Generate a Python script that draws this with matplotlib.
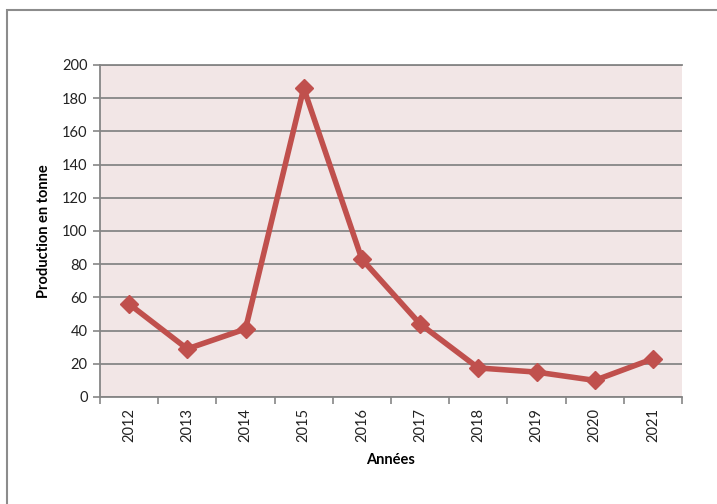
import matplotlib.pyplot as plt
from matplotlib.patches import Rectangle

annees = ["2012", "2013", "2014", "2015", "2016", "2017", "2018", "2019", "2020", "2021"]
production = [56, 29, 41, 186, 83, 44, 17.5, 15, 10, 23]
yticks = [0, 20, 40, 60, 80, 100, 120, 140, 160, 180, 200]

plt.rcParams['font.family'] = ['Lato', 'DejaVu Sans']

fig = plt.figure(figsize=(7.17, 5.04), dpi=100)
W, H = 717, 504
ax = fig.add_axes([100 / W, 1 - 397 / H, (682 - 100) / W, (397 - 65) / H])

# outer frame of the chart
fig.patches.append(Rectangle((7 / W, -0.1), 1.2, 1 - 10 / H + 0.1, transform=fig.transFigure,
                             fill=False, edgecolor='#8c8c8c', linewidth=1.5))

ax.set_facecolor('#f2e6e6')
x = list(range(len(annees)))
ax.plot(x, production, color='#c0504d', linewidth=4, marker='D', markersize=9,
        markerfacecolor='#c0504d', markeredgecolor='#c0504d', zorder=3)

ax.set_xlim(-0.5, len(annees) - 0.5)
ax.set_ylim(0, 200)
ax.set_yticks(yticks)
ax.set_yticklabels([str(v) for v in yticks], fontsize=10.5, color='#222222')
ax.set_xticks(x)
ax.set_xticklabels(annees, rotation=90, fontsize=10.5, color='#222222')
ax.tick_params(axis='x', length=0, pad=8)
ax.set_xticks([i - 0.5 for i in range(len(annees) + 1)], minor=True)
ax.tick_params(axis='x', which='minor', length=5, color='#868686', width=1.2, direction='out')
ax.tick_params(axis='y', length=5, color='#868686', width=1.2, direction='out', pad=4)

ax.yaxis.grid(True, color='#868686', linewidth=1.3)
ax.set_axisbelow(True)
for side in ['right']:
    ax.spines[side].set_visible(False)
for side in ['left', 'bottom', 'top']:
    ax.spines[side].set_color('#868686')
    ax.spines[side].set_linewidth(1.3)

ax.set_xlabel('Années', fontsize=10.5, fontweight='bold', labelpad=8)
ax.set_ylabel('Production en tonne', fontsize=10.5, fontweight='bold', labelpad=8)

fig.savefig('out.png', dpi=100)
